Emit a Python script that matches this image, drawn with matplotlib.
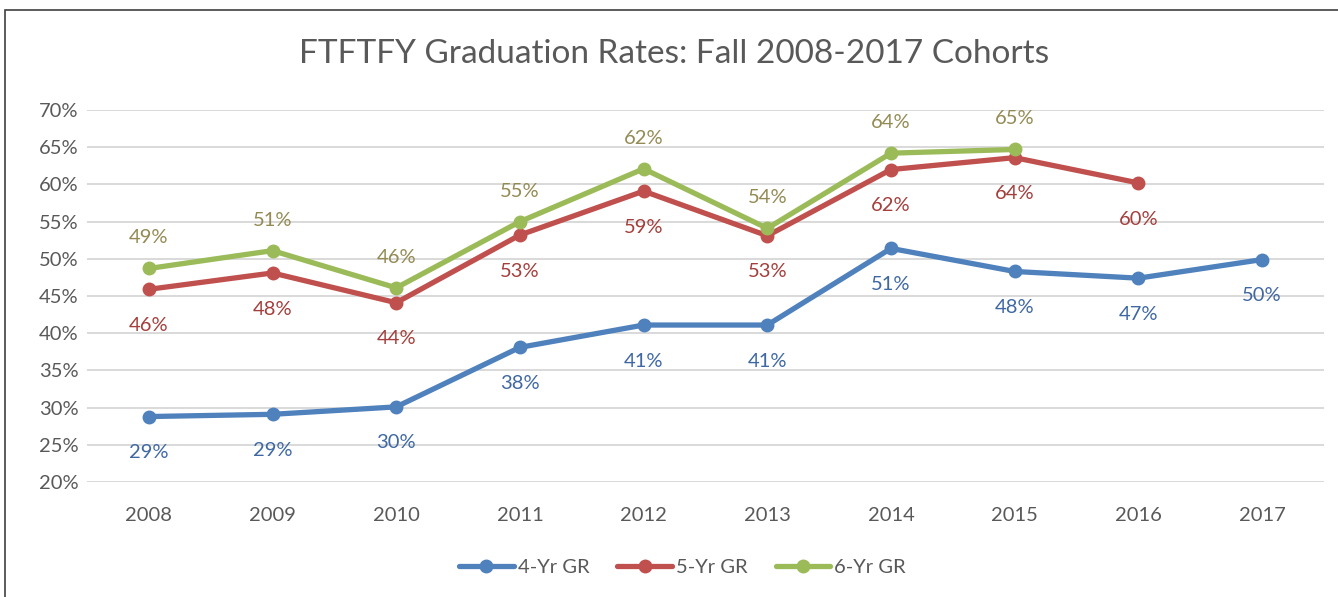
import matplotlib.pyplot as plt
import numpy as np
from matplotlib.patches import Rectangle
from matplotlib.ticker import PercentFormatter

plt.rcParams["font.family"] = ["Lato", "DejaVu Sans"]

# cohort years and graduation rates (%)
years = ["2008", "2009", "2010", "2011", "2012", "2013", "2014", "2015", "2016", "2017"]
gr4 = [28.8, 29.1, 30.1, 38.1, 41.1, 41.1, 51.4, 48.3, 47.4, 49.9]
gr5 = [45.9, 48.1, 44.1, 53.2, 59.1, 53.1, 62.0, 63.6, 60.2]
gr6 = [48.7, 51.1, 46.1, 55.0, 62.1, 54.1, 64.2, 64.7]
series_names = ["4-Yr GR", "5-Yr GR", "6-Yr GR"]

line_colors = ["#4F81BD", "#C0504D", "#9BBB59"]
label_colors = ["#3F68A3", "#A33F3C", "#948A54"]
# label offset in points: negative = below the marker
label_offsets = [-26, -26, 22]

fig = plt.figure(figsize=(13.38, 5.97), dpi=100)
ax = fig.add_axes([0.065, 0.1926, 0.9245, 0.6231])

x = np.arange(len(years))
for vals, name, lc, tc, off in zip([gr4, gr5, gr6], series_names,
                                   line_colors, label_colors, label_offsets):
    xs = x[:len(vals)]
    ax.plot(xs, vals, color=lc, lw=3.8, marker="o", ms=9, label=name,
            solid_capstyle="round", zorder=3)
    for xi, v in zip(xs, vals):
        ax.annotate(f"{v:.0f}%", (xi, v), xytext=(0, off), textcoords="offset points",
                    ha="center", va="center", fontsize=14.5, color=tc)

ax.set_xlim(-0.5, len(years) - 0.5)
ax.set_ylim(20, 70)
ax.set_yticks(np.arange(20, 71, 5))
ax.yaxis.set_major_formatter(PercentFormatter(decimals=0))
ax.set_xticks(x)
ax.set_xticklabels(years)
ax.tick_params(axis="both", length=0, labelsize=14.5, labelcolor="#595959")
ax.tick_params(axis="x", pad=18)
ax.tick_params(axis="y", pad=6)
ax.grid(axis="y", color="#D9D9D9", lw=1.4)
ax.set_axisbelow(True)
for s in ax.spines.values():
    s.set_visible(False)

fig.text(0.504, 0.91, "FTFTFY Graduation Rates: Fall 2008-2017 Cohorts",
         ha="center", va="center", fontsize=24, color="#595959")

fig.legend(loc="center", bbox_to_anchor=(0.51, 0.05), ncol=3, frameon=False,
           fontsize=14.5, handlelength=2.7, columnspacing=1.4, handletextpad=0.2,
           labelcolor="#595959")

# chart frame
fig.add_artist(Rectangle((5 / 1338, -0.01), 1.2, 1 - 10 / 597 + 0.01,
                         transform=fig.transFigure, fill=False,
                         edgecolor="#404040", lw=1.2))

fig.savefig("out.png", dpi=100, facecolor="white")
